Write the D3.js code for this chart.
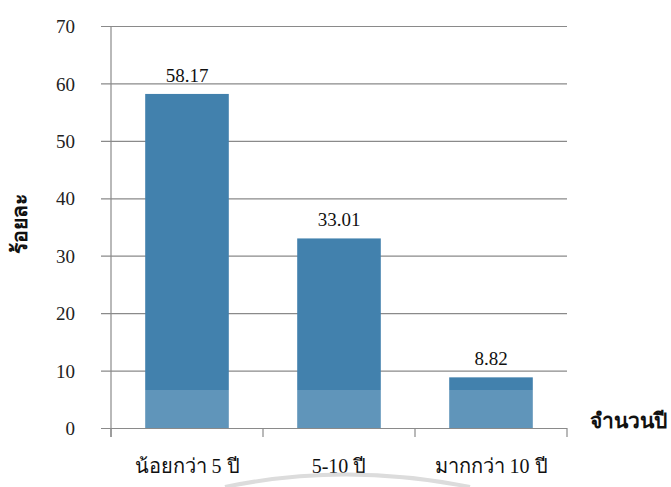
<!DOCTYPE html>
<html>
<head>
<meta charset="utf-8">
<script src="https://cdn.jsdelivr.net/npm/d3@7"></script>
<style>
  html, body { margin: 0; padding: 0; background: #fff; }
  svg { display: block; }
  svg text { font-family: "Liberation Serif", "DejaVu Serif", "Times New Roman", serif; }
</style>
</head>
<body>
<svg id="chart" width="671" height="487"></svg>
<script>
// Share of respondents (%) by years of experience
const categories = ["น้อยกว่า 5 ปี", "5-10 ปี", "มากกว่า 10 ปี"];
const values = [58.17, 33.01, 8.82];
const yTicks = [0, 10, 20, 30, 40, 50, 60, 70];

const svg = d3.select("#chart");
const margin = { left: 111, right: 104, top: 26, bottom: 59 };
const W = 671, H = 487;
const x0 = margin.left, x1 = W - margin.right;
const y0 = H - margin.bottom, y1 = margin.top;

const x = d3.scaleBand().domain(categories).range([x0, x1]).paddingInner(0.45).paddingOuter(0.225);
const xEdges = d3.scaleLinear().domain([0, categories.length]).range([x0, x1]);
const y = d3.scaleLinear().domain([0, 70]).range([y0, y1]);

const grey = "#8a8a8a";

// horizontal gridlines with short ticks left of the axis
const yAxis = d3.axisLeft(y).tickValues(yTicks).tickSize(-(x1 - x0)).tickPadding(0).tickSizeOuter(0);
const gy = svg.append("g").attr("transform", `translate(${x0},0)`).call(yAxis);
gy.attr("font-family", null).attr("font-size", null);
gy.select(".domain").remove();
gy.selectAll(".tick line").attr("stroke", grey).attr("stroke-width", 1.2).attr("x1", -10);
gy.selectAll(".tick text").style("font-size", "19px").attr("fill", "#222")
  .attr("text-anchor", "end").attr("x", -36).attr("dy", "0.35em");

// vertical axis line
svg.append("line").attr("x1", x0).attr("x2", x0).attr("y1", y(70)).attr("y2", y0 + 9)
  .attr("stroke", grey).attr("stroke-width", 1.2);

// category separators below the baseline
svg.selectAll("line.sep").data(d3.range(categories.length + 1)).join("line")
  .attr("class", "sep")
  .attr("x1", d => xEdges(d)).attr("x2", d => xEdges(d))
  .attr("y1", y0).attr("y2", y0 + 9)
  .attr("stroke", grey).attr("stroke-width", 1.2);

// bars
svg.selectAll("rect.bar").data(values).join("rect")
  .attr("class", "bar")
  .attr("x", (d, i) => x(categories[i]))
  .attr("width", x.bandwidth())
  .attr("y", d => y(d))
  .attr("height", d => y0 - y(d))
  .attr("fill", "#4281ad");

// lighter band across the lower part of the plot
svg.append("rect").attr("x", x0 + 1).attr("width", x1 - x0 - 1)
  .attr("y", 390).attr("height", y0 - 390)
  .attr("fill", "#ffffff").attr("opacity", 0.16);

// value labels
svg.selectAll("text.val").data(values).join("text")
  .attr("class", "val")
  .attr("x", (d, i) => x(categories[i]) + x.bandwidth() / 2)
  .attr("y", d => y(d) - 12)
  .attr("text-anchor", "middle")
  .style("font-size", "19px").attr("fill", "#111")
  .text(d => d.toFixed(2));

// category labels
svg.selectAll("text.cat").data(categories).join("text")
  .attr("class", "cat")
  .attr("x", d => x(d) + x.bandwidth() / 2)
  .attr("y", 473)
  .attr("text-anchor", "middle")
  .style("font-size", "20px").attr("fill", "#111")
  .text(d => d);

// axis titles
svg.append("text").attr("x", 590).attr("y", 428)
  .style("font-size", "21px").attr("font-weight", "bold").attr("fill", "#111")
  .text("จำนวนปี");
svg.append("text")
  .attr("transform", "translate(27,224) rotate(-90)")
  .attr("text-anchor", "middle")
  .style("font-size", "21px").attr("font-weight", "bold").attr("fill", "#111")
  .text("ร้อยละ");

// faint arc along the bottom edge
svg.append("path")
  .attr("d", "M225,487 Q345,462 470,487")
  .attr("fill", "none").attr("stroke", "#dcdcdc").attr("stroke-width", 4);
</script>
</body>
</html>
